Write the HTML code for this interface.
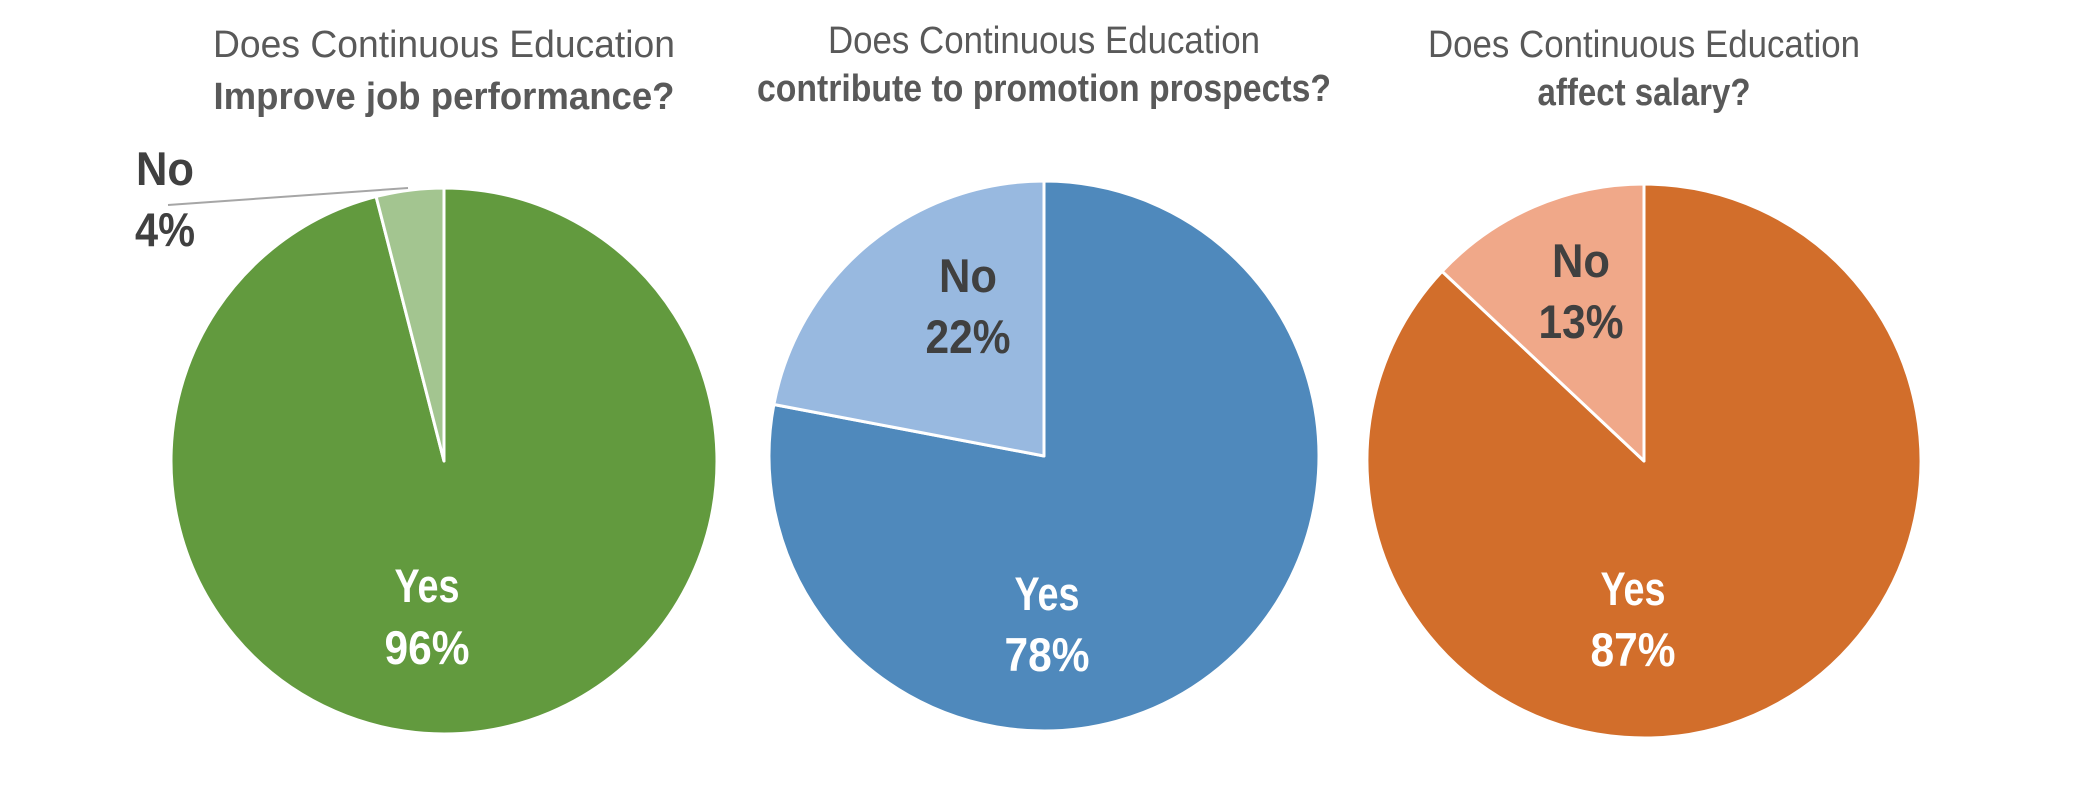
<!DOCTYPE html>
<html><head><meta charset="utf-8"><style>
html,body{margin:0;padding:0;background:#fff;}
svg{display:block;}
</style></head><body>
<svg id="chart" width="2085" height="804" xmlns="http://www.w3.org/2000/svg"></svg>
<script>
const categories = ["Yes", "No"];
const jobValues = [96, 4];
const promoValues = [78, 22];
const salaryValues = [87, 13];
const titleLine1 = ["Does Continuous Education", "Does Continuous Education", "Does Continuous Education"];
const titleLine2 = ["Improve job performance?", "contribute to promotion prospects?", "affect salary?"];

const NS = "http://www.w3.org/2000/svg";
const svg = document.getElementById('chart');
const pies = [
  {vals: jobValues, cx: 444, cy: 461, r: 273, colors: ["#629a3e", "#a3c590"], name: "job-performance",
   t1: {y: 57, w: 462, fs: 38}, t2: {y: 109, w: 461, fs: 38},
   labels: [{x: 427, y1: 602, y2: 664, fill: "#ffffff", w1: 65, w2: 85}, {x: 165, y1: 185, y2: 246, fill: "#404040", w1: 58, w2: 60}],
   leader: [168, 205, 408, 188]},
  {vals: promoValues, cx: 1044, cy: 456, r: 275, colors: ["#4f89bc", "#98b9e0"], name: "promotion-prospects",
   t1: {y: 53, w: 432, fs: 38}, t2: {y: 101, w: 574, fs: 38},
   labels: [{x: 1047, y1: 610, y2: 671, fill: "#ffffff", w1: 65, w2: 85}, {x: 968, y1: 292, y2: 353, fill: "#404040", w1: 58, w2: 85}]},
  {vals: salaryValues, cx: 1644, cy: 461, r: 277, colors: ["#d26e2b", "#f0a889"], name: "salary",
   t1: {y: 57, w: 432, fs: 38}, t2: {y: 105, w: 213, fs: 38},
   labels: [{x: 1633, y1: 605, y2: 666, fill: "#ffffff", w1: 65, w2: 85}, {x: 1581, y1: 277, y2: 338, fill: "#404040", w1: 58, w2: 85}]}
];

function mk(tag, attrs) { const e = document.createElementNS(NS, tag); for (const k in attrs) e.setAttribute(k, attrs[k]); return e; }
function pt(p, frac) { const a = frac * 2 * Math.PI; return [p.cx + p.r * Math.sin(a), p.cy - p.r * Math.cos(a)]; }

pies.forEach((p, i) => {
  const tot = p.vals.reduce((a, b) => a + b, 0);
  let acc = 0;
  p.vals.forEach((v, j) => {
    const f0 = acc / tot, f1 = (acc + v) / tot; acc += v;
    const [x0, y0] = pt(p, f0), [x1, y1] = pt(p, f1);
    const large = (f1 - f0) > 0.5 ? 1 : 0;
    const path = mk('path', {d: `M${p.cx},${p.cy} L${x0},${y0} A${p.r},${p.r} 0 ${large} 1 ${x1},${y1} Z`, fill: p.colors[j], stroke: '#ffffff', 'stroke-width': 3, 'stroke-linejoin': 'round'});
    
    
    svg.appendChild(path);
  });
  if (p.leader) {
    const ln = mk('line', {x1: p.leader[0], y1: p.leader[1], x2: p.leader[2], y2: p.leader[3], stroke: '#a6a6a6', 'stroke-width': 2});
    
    
    svg.appendChild(ln);
  }
  p.labels.forEach((L, j) => {
    const t1 = mk('text', {x: L.x, y: L.y1, 'text-anchor': 'middle', 'font-family': 'Liberation Sans, sans-serif', 'font-weight': 'bold', 'font-size': 47, fill: L.fill, textLength: L.w1, lengthAdjust: 'spacingAndGlyphs'});
    t1.textContent = categories[j];
    
    
    svg.appendChild(t1);
    const t2 = mk('text', {x: L.x, y: L.y2, 'text-anchor': 'middle', 'font-family': 'Liberation Sans, sans-serif', 'font-weight': 'bold', 'font-size': 47, fill: L.fill, textLength: L.w2, lengthAdjust: 'spacingAndGlyphs'});
    t2.textContent = p.vals[j] + '%';
    
    
    svg.appendChild(t2);
  });
  const a = mk('text', {x: p.cx, y: p.t1.y, 'text-anchor': 'middle', 'font-family': 'Liberation Sans, sans-serif', 'font-size': p.t1.fs, fill: '#595959', textLength: p.t1.w, lengthAdjust: 'spacingAndGlyphs'});
  a.textContent = titleLine1[i];
  
  
  svg.appendChild(a);
  const b = mk('text', {x: p.cx, y: p.t2.y, 'text-anchor': 'middle', 'font-family': 'Liberation Sans, sans-serif', 'font-weight': 'bold', 'font-size': p.t2.fs, fill: '#595959', textLength: p.t2.w, lengthAdjust: 'spacingAndGlyphs'});
  b.textContent = titleLine2[i];
  
  
  svg.appendChild(b);
});
</script>
</body></html>
